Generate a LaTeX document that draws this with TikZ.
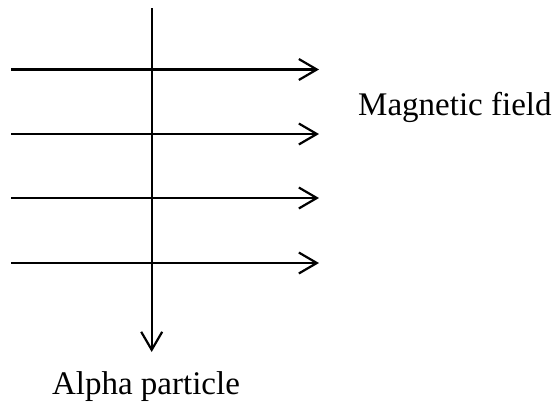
\documentclass[tikz,border=0pt]{standalone}
\usepackage{fontspec}
\setmainfont{Liberation Serif}
\usetikzlibrary{arrows.meta}
\begin{document}
\begin{tikzpicture}[x=1pt,y=-1pt,
  fieldarrow/.style={line width=2.2pt,-{Straight Barb[length=18pt,width=21pt]}},
  lbl/.style={inner sep=0pt,font=\fontsize{33}{38}\selectfont}]
\useasboundingbox (0,0) rectangle (558,402);
\coordinate (vtop) at (151.7,8);
\coordinate (vbot) at (151.7,352);
\foreach \i/\y in {1/69.5,2/134,3/198,4/263}{
  \coordinate (l\i) at (11,\y);
  \coordinate (r\i) at (319,\y);
  \draw[fieldarrow] (l\i) -- (r\i);
}
\draw[fieldarrow] (vtop) -- (vbot);
\node[lbl,anchor=base west] (mf) at (358,115) {Magnetic field};
\node[lbl,anchor=base] (ap) at (146,394) {Alpha particle};
\end{tikzpicture}
\end{document}
